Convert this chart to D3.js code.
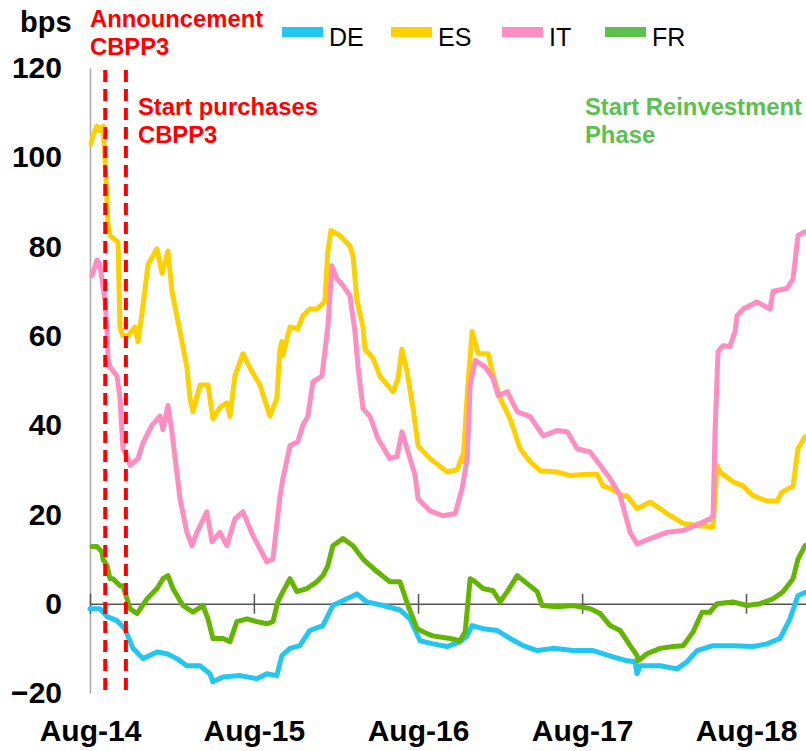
<!DOCTYPE html>
<html>
<head>
<meta charset="utf-8">
<script src="https://d3js.org/d3.v7.min.js"></script>
<style>
  body { margin: 0; background: #fff; }
  text { font-family: "Liberation Sans", Arial, sans-serif; }
</style>
</head>
<body>
<div id="chart"></div>
<script>
// spreads vs. swap, in bps; time as decimal year
const seriesNames = ["DE", "ES", "IT", "FR"];

const deData = [
  [2014.581,-1.1],[2014.642,-1.1],[2014.685,-2.9],[2014.746,-3.8],[2014.794,-5.6],[2014.843,-10],
  [2014.904,-12.3],[2014.990,-10.8],[2015.051,-11.2],[2015.111,-12.3],[2015.172,-13.9],[2015.252,-13.9],
  [2015.313,-15.7],[2015.331,-17.5],[2015.392,-16.4],[2015.496,-16.1],[2015.599,-16.8],[2015.660,-15.7],
  [2015.721,-16.1],[2015.752,-11.6],[2015.801,-10],[2015.861,-9.4],[2015.922,-6],[2016.002,-4.9],
  [2016.063,-0.4],[2016.148,1.1],[2016.209,2.2],[2016.270,0.4],[2016.368,-0.4],[2016.471,-1.4],
  [2016.532,-3.4],[2016.593,-8.3],[2016.672,-9],[2016.758,-9.6],[2016.837,-8.5],[2016.880,-7.2],
  [2016.910,-4.9],[2016.977,-5.6],[2017.063,-6],[2017.142,-7.8],[2017.221,-9.4],[2017.307,-10.5],
  [2017.404,-10],[2017.526,-10.5],[2017.648,-10.5],[2017.770,-11.9],[2017.855,-12.8],[2017.904,-13],
  [2017.916,-15.7],[2017.935,-13.9],[2018.057,-13.9],[2018.160,-14.6],[2018.221,-13],[2018.282,-10.5],
  [2018.380,-9.4],[2018.502,-9.4],[2018.624,-9.6],[2018.709,-9],[2018.788,-7.8],[2018.849,-3.4],
  [2018.898,1.8],[2018.941,2.5]
];

const esData = [
  [2014.587,103],[2014.600,105],[2014.624,107],[2014.642,106],[2014.660,107],[2014.672,100],
  [2014.691,85],[2014.703,82.5],[2014.752,81],[2014.764,62],[2014.782,60],[2014.813,60],
  [2014.855,62],[2014.874,58.7],[2014.898,65],[2014.935,76],[2014.990,79.5],[2015.020,74],
  [2015.057,79],[2015.081,70],[2015.130,61],[2015.172,53],[2015.191,46],[2015.209,43],
  [2015.252,49],[2015.301,49],[2015.331,41.4],[2015.374,44],[2015.416,45],[2015.435,42],
  [2015.465,51],[2015.514,56],[2015.569,52],[2015.618,49],[2015.679,42],[2015.721,46],
  [2015.740,57],[2015.752,58.7],[2015.758,55.6],[2015.801,62],[2015.849,61.6],[2015.880,64.5],
  [2015.922,66],[2015.965,66],[2016.014,67.6],[2016.032,78.8],[2016.051,83.6],[2016.105,82.5],
  [2016.166,80.2],[2016.185,78],[2016.209,68],[2016.246,62],[2016.258,57],[2016.307,55],
  [2016.349,51],[2016.429,47.5],[2016.459,50.4],[2016.483,57],[2016.514,52],[2016.551,43.7],
  [2016.581,35.4],[2016.654,32.5],[2016.758,29.5],[2016.819,30],[2016.849,33],[2016.855,31.8],
  [2016.880,46.6],[2016.910,61],[2016.947,56],[2017.008,56],[2017.038,51],[2017.081,46],
  [2017.142,41.4],[2017.203,34.7],[2017.264,31.8],[2017.325,29.8],[2017.429,29.5],[2017.508,28.7],
  [2017.611,29],[2017.672,29],[2017.709,26.4],[2017.752,25.8],[2017.831,24.2],[2017.855,24.2],
  [2017.916,21.3],[2017.996,22.8],[2018.099,20.2],[2018.197,18],[2018.282,17.5],[2018.380,17.2],
  [2018.404,31],[2018.422,29.5],[2018.502,27.3],[2018.563,26.4],[2018.624,24.2],[2018.709,23],
  [2018.770,23],[2018.801,25],[2018.868,26.4],[2018.898,34.7],[2018.941,37.4]
];

const itData = [
  [2014.593,73.5],[2014.624,77],[2014.642,76],[2014.660,71],[2014.672,68],[2014.685,61],
  [2014.691,55],[2014.703,53],[2014.746,51],[2014.764,46],[2014.782,34.7],[2014.813,32.5],
  [2014.825,31],[2014.874,32.5],[2014.904,36],[2014.959,40],[2015.008,42],[2015.026,39],
  [2015.057,44.4],[2015.081,38.5],[2015.130,23.5],[2015.172,16],[2015.203,13],[2015.233,16],
  [2015.294,20.6],[2015.325,13.9],[2015.374,16],[2015.416,13],[2015.465,19],[2015.514,20.6],
  [2015.575,15.3],[2015.660,9.4],[2015.697,10],[2015.740,24],[2015.758,28],[2015.801,35.4],
  [2015.849,36.3],[2015.880,40],[2015.910,42],[2015.941,49.7],[2015.996,51],[2016.032,62],
  [2016.057,75.7],[2016.087,72.8],[2016.124,71.3],[2016.166,69],[2016.197,61],[2016.215,53.3],
  [2016.246,43.7],[2016.288,42],[2016.337,37],[2016.410,32.5],[2016.453,33],[2016.483,38.5],
  [2016.520,34],[2016.563,28.7],[2016.581,23.5],[2016.654,20.8],[2016.733,19.7],[2016.807,20.2],
  [2016.849,25.8],[2016.880,32.5],[2016.898,49],[2016.929,54.5],[2016.990,53],[2017.038,50.4],
  [2017.069,46.6],[2017.124,47.5],[2017.185,43],[2017.264,41.9],[2017.343,37.6],[2017.429,38.8],
  [2017.490,38.5],[2017.551,34.7],[2017.630,34],[2017.691,31],[2017.752,28],[2017.813,24.2],
  [2017.874,16],[2017.916,13.4],[2017.996,14.6],[2018.099,16],[2018.197,16.4],[2018.301,18],
  [2018.361,19],[2018.380,19.7],[2018.392,38.5],[2018.410,56.4],[2018.441,57.8],[2018.483,57.6],
  [2018.514,61],[2018.526,64.5],[2018.563,66],[2018.648,67.6],[2018.727,66],[2018.746,70],
  [2018.831,70.6],[2018.868,72.8],[2018.898,82.5],[2018.941,83.3]
];

const frData = [
  [2014.593,12.8],[2014.624,12.8],[2014.654,11.6],[2014.660,10],[2014.685,8.5],[2014.703,5.6],
  [2014.721,5.6],[2014.764,4],[2014.782,4],[2014.825,-1.1],[2014.868,-2.2],[2014.929,1.1],
  [2014.990,3.4],[2015.026,5.6],[2015.057,6.3],[2015.087,3.4],[2015.148,-0.4],[2015.209,-1.9],
  [2015.270,-0.4],[2015.301,-3.4],[2015.331,-7.8],[2015.392,-7.8],[2015.435,-8.5],[2015.477,-4],
  [2015.538,-3.4],[2015.599,-4],[2015.660,-4.5],[2015.697,-4],[2015.727,0.4],[2015.758,2.7],
  [2015.801,5.6],[2015.843,2.7],[2015.904,3.4],[2015.965,4.9],[2016.002,6.3],[2016.032,8.5],
  [2016.063,13],[2016.124,14.6],[2016.185,13],[2016.246,10],[2016.331,7.2],[2016.410,4.9],
  [2016.471,4.9],[2016.520,-0.4],[2016.575,-5.6],[2016.636,-6.7],[2016.672,-7.2],[2016.776,-7.8],
  [2016.837,-8.3],[2016.868,-6.3],[2016.898,5.6],[2016.929,4.9],[2016.977,3.4],[2017.038,2.9],
  [2017.081,0.4],[2017.124,2.7],[2017.185,6.3],[2017.246,4.5],[2017.307,2.7],[2017.337,-0.4],
  [2017.429,-0.7],[2017.526,-0.4],[2017.630,-1.1],[2017.691,-2.2],[2017.752,-4.9],[2017.813,-6],
  [2017.874,-9.4],[2017.916,-11.6],[2017.922,-12.8],[2017.977,-11.2],[2018.057,-10],[2018.136,-9.6],
  [2018.197,-9.4],[2018.258,-6.3],[2018.313,-1.9],[2018.361,-1.9],[2018.404,0],[2018.502,0.4],
  [2018.587,-0.4],[2018.666,0],[2018.746,1.1],[2018.807,2.7],[2018.868,5.6],[2018.898,10],
  [2018.941,13]
];

const yTicks = [-20, 0, 20, 40, 60, 80, 100, 120];
const xTickYears = [2014.581, 2015.581, 2016.581, 2017.581, 2018.581];
const xTickLabels = ["Aug-14", "Aug-15", "Aug-16", "Aug-17", "Aug-18"];
const eventYears = [2014.674, 2014.800]; // CBPP3 announcement, start of purchases

const colors = {DE: "#22c6f0", ES: "#ffd000", IT: "#ff8dc1", FR: "#63b500"};
const legendColors = {DE: "#22c6f0", ES: "#ffd000", IT: "#ff8dc1", FR: "#5cc04f"};

function yrDate(t) {
  const y = Math.floor(t);
  const a = new Date(y, 0, 1), b = new Date(y + 1, 0, 1);
  return new Date(+a + (t - y) * (b - a));
}

const W = 806, H = 751;
const svg = d3.select("#chart").append("svg").attr("width", W).attr("height", H);

const x = d3.scaleTime()
  .domain([yrDate(2014.581), yrDate(2018.947)])
  .range([90, 806]);
const y = d3.scaleLinear().domain([-20, 120]).range([693, 68]);

// left axis
const yAx = svg.append("g").attr("transform", "translate(90,0)")
  .call(d3.axisLeft(y).tickValues(yTicks).tickSize(0).tickSizeOuter(0).tickPadding(28));
yAx.select(".domain").attr("stroke", "#a8a8a8").attr("stroke-width", 1.5);
yAx.selectAll("text").attr("font-size", 30).attr("font-weight", "bold").attr("fill", "#000")
  .style("font-family", "'Liberation Sans', Arial, sans-serif");

// zero line with year ticks
const zAx = svg.append("g").attr("transform", "translate(0," + y(0) + ")")
  .call(d3.axisBottom(x).tickValues(xTickYears.map(yrDate)).tickFormat("").tickSizeOuter(0));
zAx.select(".domain").attr("stroke", "#555").attr("stroke-width", 1.5);
zAx.selectAll(".tick line").attr("y1", -10).attr("y2", 10).attr("stroke", "#555").attr("stroke-width", 1.5);

// bottom labels
const xAx = svg.append("g").attr("transform", "translate(0," + y(-20) + ")")
  .call(d3.axisBottom(x).tickValues(xTickYears.map(yrDate))
    .tickFormat((d, i) => xTickLabels[i]).tickSize(0).tickPadding(27));
xAx.select(".domain").remove();
xAx.selectAll("text").attr("font-size", 30).attr("font-weight", "bold").attr("fill", "#000")
  .style("font-family", "'Liberation Sans', Arial, sans-serif");

// series
const line = d3.line().x(d => x(yrDate(d[0]))).y(d => y(d[1]));
const allSeries = {DE: deData, ES: esData, IT: itData, FR: frData};
seriesNames.forEach(k => {
  svg.append("path").datum(allSeries[k])
    .attr("fill", "none")
    .attr("stroke", colors[k])
    .attr("stroke-width", 5)
    .attr("stroke-linejoin", "round")
    .attr("stroke-linecap", "round")
    .attr("d", line);
});

// event lines
svg.selectAll(".event").data(eventYears).enter().append("line")
  .attr("x1", d => x(yrDate(d))).attr("x2", d => x(yrDate(d)))
  .attr("y1", 70).attr("y2", 696)
  .attr("stroke", "#ff0000").attr("stroke-width", 4)
  .attr("stroke-dasharray", "12,7");

// annotations
function note(lines, xx, yy, color) {
  const t = svg.append("text").attr("x", xx).attr("y", yy)
    .attr("font-size", 23.8).attr("font-weight", "bold").attr("fill", color);
  lines.forEach((s, i) => t.append("tspan").attr("x", xx).attr("dy", i ? 28 : 0).text(s));
}
note(["Announcement", "CBPP3"], 90, 27, "#ff0000");
note(["Start purchases", "CBPP3"], 138, 115, "#ff0000");
note(["Start Reinvestment", "Phase"], 585, 115, "#5cc04f");

svg.append("text").attr("x", 20).attr("y", 32)
  .attr("font-size", 29).attr("font-weight", "bold").text("bps");

// legend
const legendX = [282, 391, 502, 605];
seriesNames.forEach((k, i) => {
  svg.append("rect").attr("x", legendX[i]).attr("y", 27).attr("width", 41).attr("height", 10)
    .attr("fill", legendColors[k]);
  svg.append("text").attr("x", legendX[i] + 47).attr("y", 46)
    .attr("font-size", 25).attr("fill", "#000").text(k);
});
</script>
</body>
</html>
